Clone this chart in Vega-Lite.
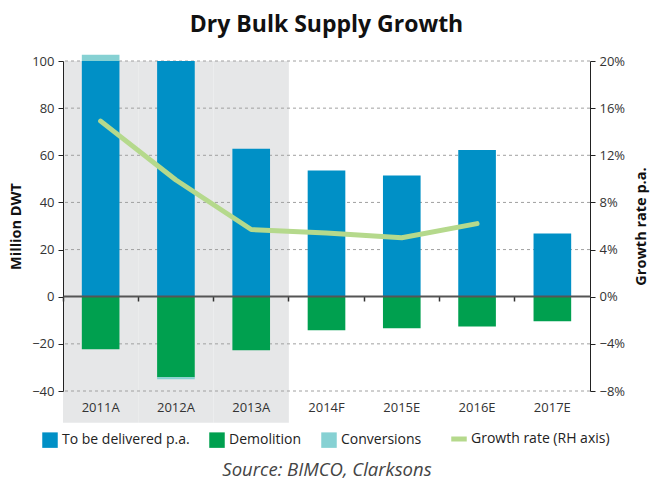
{
  "$schema": "https://vega.github.io/schema/vega-lite/v6.json",
  "autosize": {"type": "none"},
  "width": 527,
  "height": 330,
  "padding": {"left": 63, "top": 61, "right": 65, "bottom": 90},
  "background": "white",
  "config": {
    "font": "Open Sans",
    "view": {"stroke": null},
    "axis": {"labelColor": "#333", "titleColor": "#111", "labelFont": "Open Sans", "titleFont": "Open Sans"}
  },
  "title": {
    "text": "Dry Bulk Supply Growth",
    "fontSize": 23,
    "fontWeight": "bold",
    "font": "Open Sans",
    "color": "#111",
    "offset": 18,
    "frame": "group",
    "anchor": "middle"
  },
  "datasets": {
    "years": [
      {"year": "2011A", "period": "A"},
      {"year": "2012A", "period": "A"},
      {"year": "2013A", "period": "A"},
      {"year": "2014F", "period": "F"},
      {"year": "2015E", "period": "E"},
      {"year": "2016E", "period": "E"},
      {"year": "2017E", "period": "E"}
    ],
    "grid": [{"v": -40}, {"v": -20}, {"v": 20}, {"v": 40}, {"v": 60}, {"v": 80}, {"v": 100}],
    "bars": [
      {"year": "2011A", "series": "To be delivered p.a.", "value": 100},
      {"year": "2011A", "series": "Demolition", "value": -22.3},
      {"year": "2011A", "series": "Conversions", "value": 2.7},
      {"year": "2012A", "series": "To be delivered p.a.", "value": 100},
      {"year": "2012A", "series": "Demolition", "value": -34.2},
      {"year": "2012A", "series": "Conversions", "value": -0.8},
      {"year": "2013A", "series": "To be delivered p.a.", "value": 62.8},
      {"year": "2013A", "series": "Demolition", "value": -22.7},
      {"year": "2014F", "series": "To be delivered p.a.", "value": 53.5},
      {"year": "2014F", "series": "Demolition", "value": -14.2},
      {"year": "2015E", "series": "To be delivered p.a.", "value": 51.4},
      {"year": "2015E", "series": "Demolition", "value": -13.4},
      {"year": "2016E", "series": "To be delivered p.a.", "value": 62.2},
      {"year": "2016E", "series": "Demolition", "value": -12.6},
      {"year": "2017E", "series": "To be delivered p.a.", "value": 26.8},
      {"year": "2017E", "series": "Demolition", "value": -10.4}
    ],
    "growth": [
      {"year": "2011A", "growth": 0.149},
      {"year": "2012A", "growth": 0.099},
      {"year": "2013A", "growth": 0.057},
      {"year": "2014F", "growth": 0.054},
      {"year": "2015E", "growth": 0.050},
      {"year": "2016E", "growth": 0.062}
    ]
  },
  "layer": [
    {
      "layer": [
        {
          "data": {"name": "years"},
          "transform": [{"filter": "datum.period === 'A'"}],
          "mark": {"type": "bar", "color": "#e6e7e8", "width": {"band": 1}},
          "encoding": {
            "x": {
              "field": "year", "type": "nominal",
              "scale": {"domain": ["2011A", "2012A", "2013A", "2014F", "2015E", "2016E", "2017E"], "paddingInner": 0, "paddingOuter": 0},
              "axis": {
                "orient": "bottom", "domain": false, "ticks": false, "grid": false,
                "labelAngle": 0, "labelPadding": 10, "labelFontSize": 13, "labelColor": "#333",
                "title": "Source: BIMCO, Clarksons", "titleFontStyle": "italic", "titleFontWeight": "normal",
                "titleFontSize": 18.5, "titlePadding": 46, "titleColor": "#444", "zindex": 1
              }
            },
            "y": {
              "datum": 100, "type": "quantitative",
              "scale": {"domain": [-40, 100]},
              "axis": {
                "orient": "left", "values": [-40, -20, 0, 20, 40, 60, 80, 100], "grid": false,
                "domainColor": "#222", "tickColor": "#222", "tickSize": 5, "labelFontSize": 13, "labelPadding": 4,
                "title": "Million DWT", "titleFontSize": 14.5, "titleFontWeight": "bold", "titlePadding": 8, "zindex": 1
              }
            },
            "y2": {"datum": -53.5}
          }
        },
        {
          "data": {"name": "grid"},
          "mark": {"type": "rule", "color": "#a0a0a0", "strokeDash": [3, 3], "strokeWidth": 1},
          "encoding": {"y": {"field": "v", "type": "quantitative"}}
        },
        {
          "data": {"name": "bars"},
          "mark": {"type": "bar", "width": {"band": 0.5}},
          "encoding": {
            "x": {"field": "year", "type": "nominal"},
            "y": {"field": "value", "type": "quantitative", "stack": "zero"},
            "color": {
              "field": "series", "type": "nominal",
              "scale": {
                "domain": ["To be delivered p.a.", "Demolition", "Conversions", "Growth rate (RH axis)"],
                "range": ["#0090c6", "#00a04f", "#86d1d3", "#b5d98c"]
              },
              "legend": {
                "orient": "none", "legendX": -20, "legendY": 371, "direction": "horizontal",
                "title": null, "symbolSize": 240, "labelFontSize": 14, "labelColor": "#222",
                "columnPadding": 19, "labelOffset": 5, "symbolStrokeWidth": 0,
                "encode": {
                  "symbols": {
                    "update": {
                      "shape": {"signal": "datum.value === 'Growth rate (RH axis)' ? 'stroke' : 'square'"},
                      "fill": {"signal": "scale('color', datum.value)"},
                      "stroke": {"signal": "datum.value === 'Growth rate (RH axis)' ? '#b5d98c' : 'transparent'"},
                      "strokeWidth": {"signal": "datum.value === 'Growth rate (RH axis)' ? 5 : 0"}
                    }
                  }
                }
              }
            },
            "order": {"field": "series", "sort": "descending"}
          }
        }
      ]
    },
    {
      "data": {"name": "growth"},
      "mark": {"type": "line", "strokeWidth": 5, "strokeCap": "round", "strokeJoin": "round"},
      "encoding": {
        "x": {
          "field": "year", "type": "nominal",
          "scale": {"domain": ["2011A", "2012A", "2013A", "2014F", "2015E", "2016E", "2017E"], "paddingInner": 0, "paddingOuter": 0},
          "axis": {
            "orient": "bottom", "offset": -95, "labels": false, "title": null, "grid": false,
            "domain": true, "domainColor": "#555", "domainWidth": 2,
            "ticks": true, "tickColor": "#333", "tickSize": 5, "tickWidth": 1.5, "bandPosition": 0, "zindex": 2
          }
        },
        "y": {
          "field": "growth", "type": "quantitative",
          "scale": {"domain": [-0.08, 0.2]},
          "axis": {
            "orient": "right", "values": [-0.08, -0.04, 0, 0.04, 0.08, 0.12, 0.16, 0.2], "format": ".0%", "grid": false,
            "domainColor": "#222", "tickColor": "#222", "tickSize": 5, "labelFontSize": 13, "labelPadding": 4,
            "title": "Growth rate p.a.", "titleFontSize": 14.5, "titleFontWeight": "bold", "titleAngle": 270, "titlePadding": 24, "zindex": 1
          }
        },
        "color": {"datum": "Growth rate (RH axis)"}
      }
    }
  ],
  "resolve": {"scale": {"y": "independent"}, "axis": {"x": "independent"}}
}
